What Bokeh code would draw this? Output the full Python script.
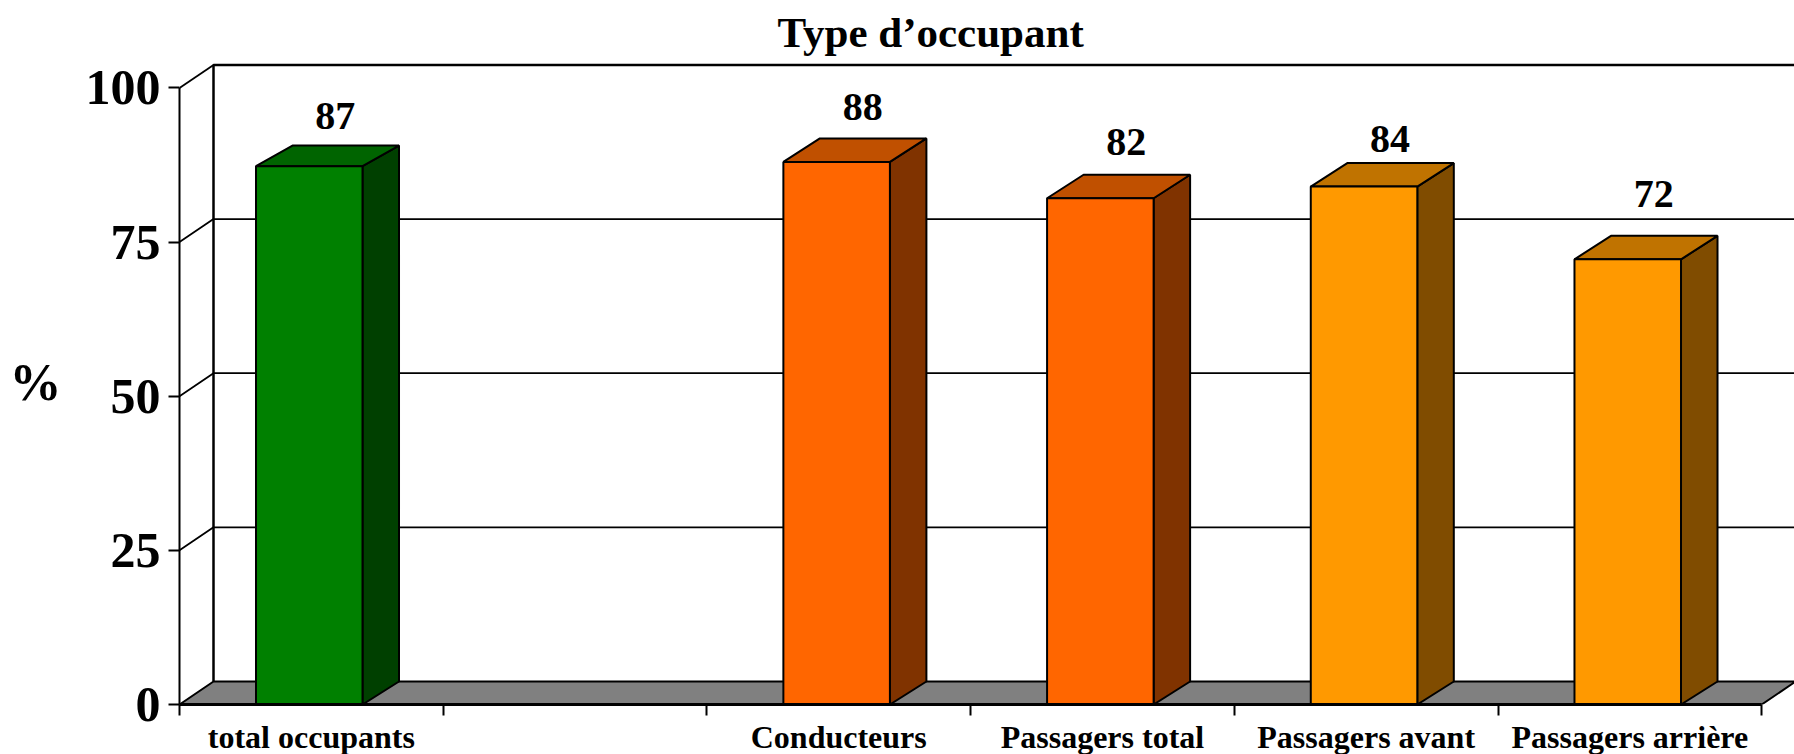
from bokeh.plotting import figure
from bokeh.models import FixedTicker, Range1d
from bokeh.core.properties import value
from bokeh.embed import file_html
from bokeh.resources import INLINE

categories = ["total occupants", "", "Conducteurs", "Passagers total", "Passagers avant", "Passagers arrière"]
bar_heights = [87.3, None, 88, 82.1, 84, 72.2]
bar_labels = ["87", None, "88", "82", "84", "72"]
front_colors = ["#008000", None, "#FF6600", "#FF6600", "#FF9900", "#FF9900"]
top_colors = ["#006400", None, "#C05000", "#C05000", "#C07300", "#C07300"]
side_colors = ["#004000", None, "#803300", "#803300", "#804C00", "#804C00"]
y_ticks = [0, 25, 50, 75, 100]
title_text = "Type d’occupant"
y_title = "%"

FONT = "Liberation Serif"
LEFT, TOP, BOTTOM = 179, 60, 50
frame_w, frame_h = 1615, 644
PX_X = 263.7
PX_Y = 6.166

WALL_DX, WALL_DY = 34 / PX_X, 23 / PX_Y
BAR_DX, BAR_BASE_DY = 36.5 / PX_X, 23 / PX_Y
BAR_LEFT, BAR_W = 0.29, 0.404
top_depth_px = [20.7, None, 23.5, 23.5, 23.5, 23.5]
label_offset_px = [-30, None, -31, -33, -24, -42]

n = len(categories)
p = figure(frame_width=frame_w, frame_height=frame_h, output_backend="svg", toolbar_location=None,
           x_range=Range1d(0, frame_w / PX_X), y_range=Range1d(0, frame_h / PX_Y),
           min_border_left=LEFT, min_border_right=0, min_border_top=TOP, min_border_bottom=BOTTOM,
           outline_line_color=None, background_fill_color="white", border_fill_color="white")
p.grid.visible = False

p.title.text = title_text
p.title.align = "left"
p.title.offset = 598
p.title.text_font = FONT
p.title.text_font_style = "bold"
p.title.text_font_size = "43px"
p.title.text_color = "black"
p.title.standoff = 10

# walls and gridlines
far = frame_w / PX_X + 1
top_y = 100 + WALL_DY
p.line([WALL_DX, WALL_DX, far], [WALL_DY, top_y, top_y], line_color="black", line_width=2.5)
for t in y_ticks[1:-1]:
    p.line([0, WALL_DX, far], [t, t + WALL_DY, t + WALL_DY], line_color="black", line_width=1.8)
p.line([0, WALL_DX], [100, top_y], line_color="black", line_width=1.8)
p.patch([0, WALL_DX, n + WALL_DX, n], [0, WALL_DY, WALL_DY, 0],
        fill_color="#808080", line_color="black", line_width=2)

# bars
for i, v in enumerate(bar_heights):
    if v is None:
        continue
    x0 = i + BAR_LEFT
    x1 = x0 + BAR_W
    dy = top_depth_px[i] / PX_Y
    p.patch([x1, x1 + BAR_DX, x1 + BAR_DX, x1], [0, BAR_BASE_DY, v + dy, v],
            fill_color=side_colors[i], line_color="black", line_width=2)
    p.patch([x0, x0 + BAR_DX, x1 + BAR_DX, x1], [v, v + dy, v + dy, v],
            fill_color=top_colors[i], line_color="black", line_width=2)
    p.quad(left=x0, right=x1, bottom=0, top=v,
           fill_color=front_colors[i], line_color="black", line_width=2)
    p.text(x=[x0 + BAR_W / 2], y=[v + dy], text=[bar_labels[i]], text_align="center",
           text_baseline="alphabetic", x_offset=26, y_offset=label_offset_px[i],
           text_font=value(FONT), text_font_style="bold", text_font_size="40px", text_color="black")

# axes
ya = p.yaxis[0]
ya.ticker = FixedTicker(ticks=y_ticks)
ya.bounds = (0, 100)
ya.major_tick_out = 11
ya.major_tick_in = 0
ya.minor_tick_out = 0
ya.minor_tick_in = 0
ya.major_tick_line_width = 2
ya.axis_line_width = 2
ya.axis_line_color = "black"
ya.major_tick_line_color = "black"
ya.major_label_standoff = 8
ya.major_label_text_font = FONT
ya.major_label_text_font_style = "bold"
ya.major_label_text_font_size = "50px"
ya.major_label_text_color = "black"
ya.axis_label = y_title
ya.axis_label_orientation = "horizontal"
ya.axis_label_standoff = 21
ya.axis_label_text_font = FONT
ya.axis_label_text_font_style = "bold"
ya.axis_label_text_font_size = "52px"
ya.axis_label_text_color = "black"
ya.axis_label_text_baseline = "top"

xa = p.xaxis[0]
centres = [i + 0.5 for i in range(n)]
xa.ticker = FixedTicker(ticks=centres, minor_ticks=list(range(n + 1)))
xa.major_label_overrides = {c: t for c, t in zip(centres, categories)}
xa.bounds = (0, n)
xa.major_tick_out = 0
xa.major_tick_in = 0
xa.minor_tick_out = 11
xa.minor_tick_in = 0
xa.minor_tick_line_width = 2
xa.minor_tick_line_color = "black"
xa.axis_line_width = 3
xa.axis_line_color = "black"
xa.major_label_standoff = 3
xa.major_label_text_font = FONT
xa.major_label_text_font_style = "bold"
xa.major_label_text_font_size = "32px"
xa.major_label_text_color = "black"

open("out.html", "w").write(file_html(p, INLINE))
